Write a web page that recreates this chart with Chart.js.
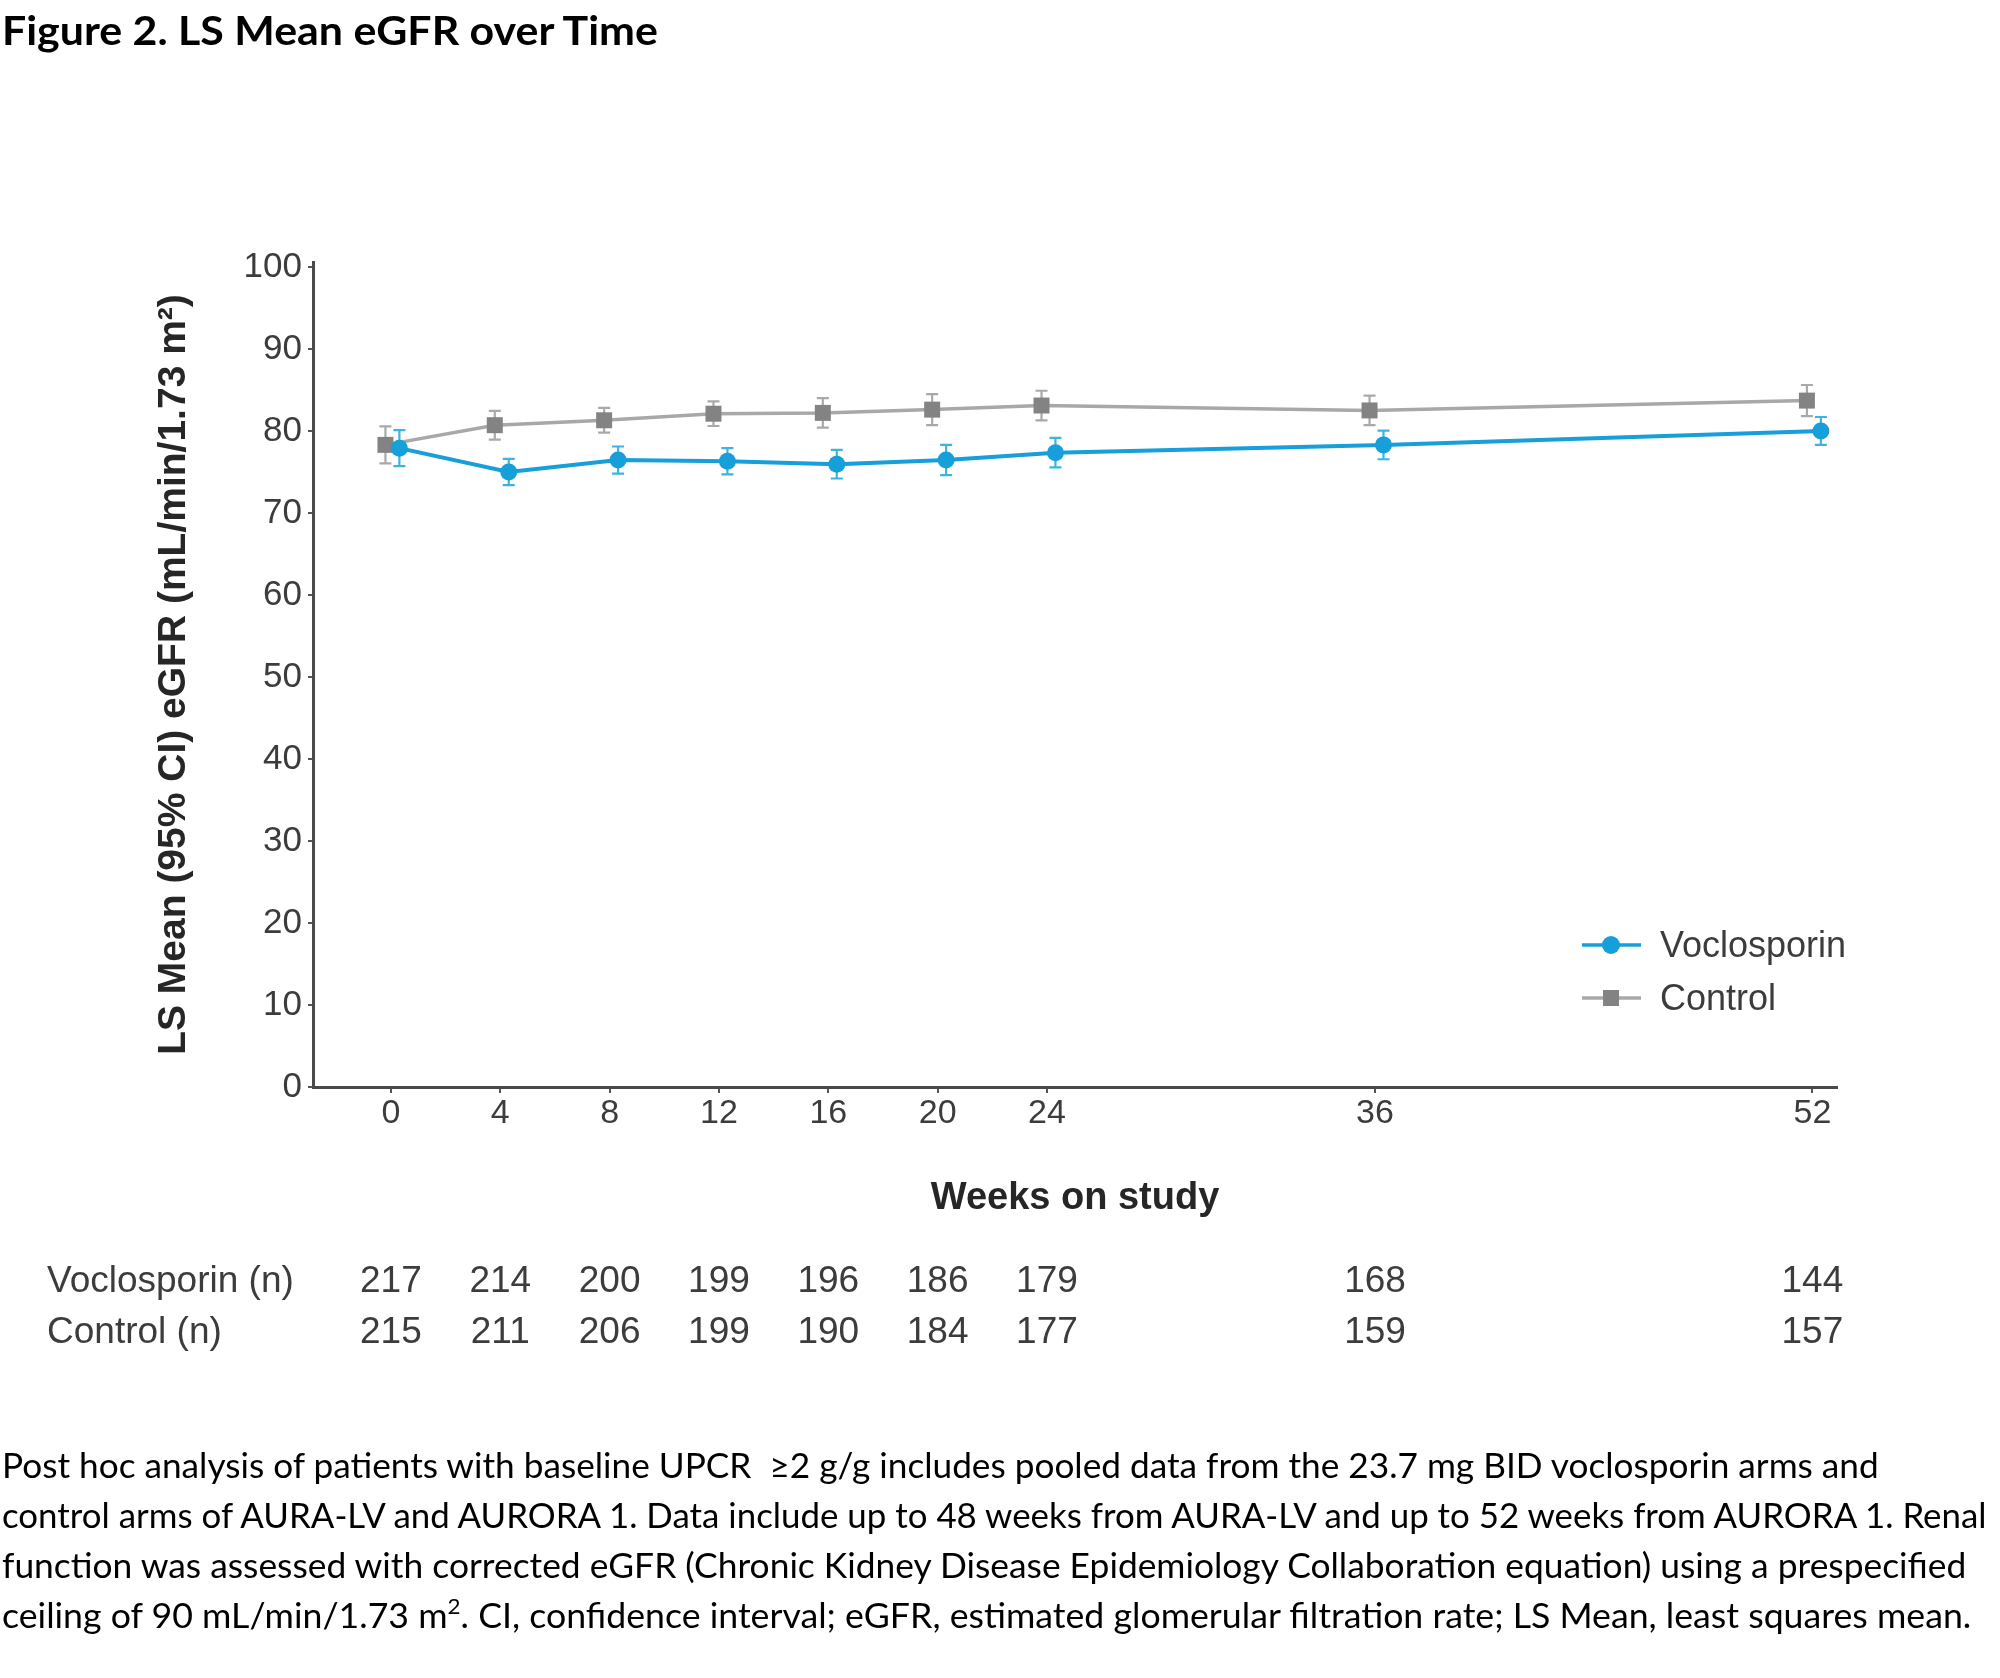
<!DOCTYPE html>
<html>
<head>
<meta charset="utf-8">
<script src="https://cdn.jsdelivr.net/npm/chart.js@4.4.1/dist/chart.umd.min.js"></script>
<style>
  html, body { margin: 0; padding: 0; background: #fff; }
  body { width: 2000px; height: 1678px; position: relative; overflow: hidden; }
  #chart { position: absolute; left: 0; top: 0; }
  .fit { position: absolute; left: 2px; white-space: nowrap; transform-origin: 0 0; color: #000; }
  #title { top: 10px; font: bold 40px/40px Lato, "Open Sans", sans-serif; }
  .note { font: 35px/50px Lato, "Open Sans", sans-serif; }
  .note sup { font-size: 22px; line-height: 0; vertical-align: 14px; }
</style>
</head>
<body>
<canvas id="chart" width="2000" height="1678"></canvas>
<div id="title" class="fit" data-w="656">Figure 2. LS Mean eGFR over Time</div>
<div class="fit note" style="top:1439px" data-w="1877">Post hoc analysis of patients with baseline UPCR &nbsp;≥2 g/g includes pooled data from the 23.7 mg BID voclosporin arms and</div>
<div class="fit note" style="top:1489px" data-w="1985">control arms of AURA-LV and AURORA 1. Data include up to 48 weeks from AURA-LV and up to 52 weeks from AURORA 1. Renal</div>
<div class="fit note" style="top:1539px" data-w="1964">function was assessed with corrected eGFR (Chronic Kidney Disease Epidemiology Collaboration equation) using a prespecified</div>
<div class="fit note" style="top:1589px" data-w="1969">ceiling of 90 mL/min/1.73 m<sup>2</sup>. CI, confidence interval; eGFR, estimated glomerular filtration rate; LS Mean, least squares mean.</div>
<script>
// ---- data ----
const weeks = [0, 4, 8, 12, 16, 20, 24, 36, 52];
const vocloMean = [77.9, 75.0, 76.45, 76.3, 75.95, 76.45, 77.35, 78.3, 80.0];
const vocloCI   = [2.2, 1.6, 1.65, 1.6, 1.75, 1.85, 1.8, 1.75, 1.7];
const controlMean = [78.3, 80.7, 81.3, 82.1, 82.2, 82.6, 83.1, 82.5, 83.7];
const controlCI   = [2.25, 1.75, 1.5, 1.5, 1.8, 1.9, 1.8, 1.8, 1.9];
const vocloN   = [217, 214, 200, 199, 196, 186, 179, 168, 144];
const controlN = [215, 211, 206, 199, 190, 184, 177, 159, 157];
const yTicks = [0, 10, 20, 30, 40, 50, 60, 70, 80, 90, 100];
const seriesNames = ['Voclosporin', 'Control'];
const nRowLabels = ['Voclosporin (n)', 'Control (n)'];

const BLUE = '#169fd9';
const BLUE_ERR = '#3db3e4';
const GREY_LINE = '#a8a8a8';
const GREY_MARK = '#838383';
const GREY_ERR = '#a9a9a9';
const TXT = '#3c3c3c';
const FONT = '"Liberation Sans", Arial, sans-serif';

// small horizontal dodge so the two series don't sit on top of each other
const DODGE = { voclo: 0.31, control: -0.2 };

function pts(mean, dx) {
    return weeks.map((w, i) => ({ x: w + dx, y: mean[i] }));
}

// ── error bars (95% CI) ──
const errorBars = {
    id: 'errorBars',
    beforeDatasetsDraw(chart) {
        const { ctx, scales: { y } } = chart;
        chart.data.datasets.forEach((ds, di) => {
            const meta = chart.getDatasetMeta(di);
            ctx.save();
            ctx.strokeStyle = ds.errColor;
            ctx.lineWidth = 2.2;
            meta.data.forEach((pt, i) => {
                const m = ds.data[i].y, c = ds.ci[i];
                const top = y.getPixelForValue(m + c);
                const bot = y.getPixelForValue(m - c);
                const cx = pt.x;
                ctx.beginPath();
                ctx.moveTo(cx, top); ctx.lineTo(cx, bot);
                ctx.moveTo(cx - 6, top); ctx.lineTo(cx + 6, top);
                ctx.moveTo(cx - 6, bot); ctx.lineTo(cx + 6, bot);
                ctx.stroke();
            });
            ctx.restore();
        });
    }
};

// ── legend inside plot + number-at-risk rows ──
const extras = {
    id: 'extras',
    afterDraw(chart) {
        const { ctx, scales: { x } } = chart;
        ctx.save();
        // legend
        const legendY = [957, 1010];
        chart.data.datasets.forEach((ds, i) => {
            const ly = legendY[i] - 12;
            ctx.strokeStyle = ds.borderColor;
            ctx.lineWidth = 3.3;
            ctx.beginPath(); ctx.moveTo(1582, ly); ctx.lineTo(1641, ly); ctx.stroke();
            ctx.fillStyle = ds.pointBackgroundColor;
            if (ds.pointStyle === 'rect') {
                ctx.fillRect(1611 - 8, ly - 8, 16, 16);
            } else {
                ctx.beginPath(); ctx.arc(1611, ly, 9, 0, Math.PI * 2); ctx.fill();
            }
            ctx.fillStyle = TXT;
            ctx.font = '36px ' + FONT;
            ctx.textAlign = 'left';
            ctx.textBaseline = 'alphabetic';
            ctx.fillText(ds.label, 1660, legendY[i]);
        });
        // n rows
        const rows = [vocloN, controlN];
        const rowY = [1292, 1343];
        ctx.font = '37px ' + FONT;
        ctx.fillStyle = TXT;
        rows.forEach((row, r) => {
            ctx.textAlign = 'left';
            ctx.fillText(nRowLabels[r], 47, rowY[r]);
            ctx.textAlign = 'center';
            row.forEach((n, i) => ctx.fillText(String(n), x.getPixelForValue(weeks[i]), rowY[r]));
        });
        ctx.restore();
    }
};

new Chart(document.getElementById('chart'), {
    type: 'line',
    data: {
        datasets: [
            {
                label: seriesNames[0],
                data: pts(vocloMean, DODGE.voclo),
                ci: vocloCI,
                errColor: BLUE_ERR,
                borderColor: BLUE,
                borderWidth: 4,
                pointStyle: 'circle',
                pointRadius: 8.5,
                pointBorderWidth: 0,
                pointBackgroundColor: BLUE,
                tension: 0
            },
            {
                label: seriesNames[1],
                data: pts(controlMean, DODGE.control),
                ci: controlCI,
                errColor: GREY_ERR,
                borderColor: GREY_LINE,
                borderWidth: 3.5,
                pointStyle: 'rect',
                pointRadius: 11.3,
                pointBorderWidth: 0,
                pointBackgroundColor: GREY_MARK,
                tension: 0
            }
        ]
    },
    options: {
        responsive: false,
        animation: false,
        layout: { padding: { top: 262, right: 163, bottom: 441, left: 0 } },
        plugins: { legend: { display: false }, tooltip: { enabled: false } },
        scales: {
            x: {
                type: 'linear',
                min: -2.85,
                max: 52.9,
                afterBuildTicks: s => { s.ticks = weeks.map(v => ({ value: v })); },
                afterFit: s => { s.height = 150; },
                ticks: { font: { family: FONT, size: 34 }, color: TXT, padding: 0, maxRotation: 0 },
                grid: { display: true, drawOnChartArea: false, drawTicks: true, tickLength: 6, color: '#555', lineWidth: 2 },
                border: { display: true, color: '#4a4a4a', width: 3 },
                title: {
                    display: true, text: 'Weeks on study', color: '#262626',
                    font: { family: FONT, size: 38, weight: 'bold' },
                    padding: { top: 0, bottom: 16 }
                }
            },
            y: {
                min: 0,
                max: 100.6,
                afterBuildTicks: s => { s.ticks = yTicks.map(v => ({ value: v })); },
                afterFit: s => { s.width = 313; },
                ticks: { font: { family: FONT, size: 35 }, color: TXT, padding: 6 },
                grid: { display: true, drawOnChartArea: false, drawTicks: true, tickLength: 5, color: '#555', lineWidth: 2 },
                border: { display: true, color: '#4a4a4a', width: 3 },
                title: {
                    display: true, text: 'LS Mean (95% CI) eGFR (mL/min/1.73 m²)', color: '#262626',
                    font: { family: FONT, size: 39, weight: 'bold' },
                    padding: { top: 151, bottom: 0 }
                }
            }
        }
    },
    plugins: [errorBars, extras]
});

// squeeze the text lines to the widths used in the figure
function fitLines() {
    document.querySelectorAll('.fit').forEach(el => {
        const target = +el.dataset.w;
        const w = el.scrollWidth;
        if (w) el.style.transform = `scaleX(${target / w})`;
    });
}
fitLines();
if (document.fonts && document.fonts.ready) document.fonts.ready.then(fitLines);
</script>
</body>
</html>
